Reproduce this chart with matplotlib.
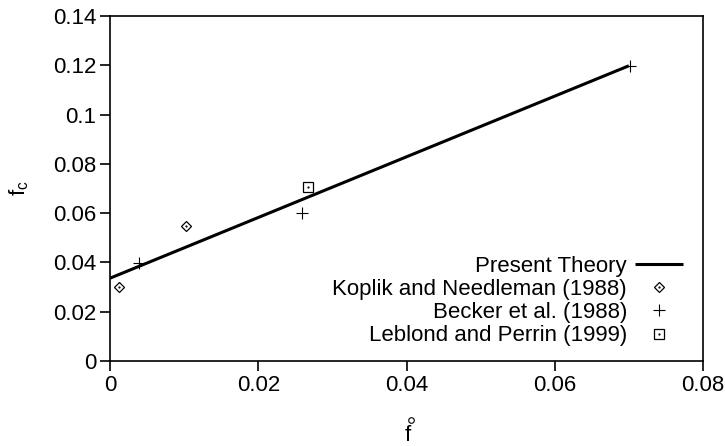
import matplotlib
matplotlib.use("Agg")
import matplotlib.pyplot as plt
from matplotlib.legend_handler import HandlerTuple
from matplotlib.lines import Line2D

plt.rcParams['font.family'] = ['Liberation Sans', 'DejaVu Sans']
plt.rcParams['mathtext.fontset'] = 'custom'
plt.rcParams['mathtext.rm'] = 'Liberation Sans'
plt.rcParams['mathtext.it'] = 'Liberation Sans'

# Data
theory_x = [0.0, 0.07]
theory_y = [0.0336, 0.1198]
koplik_x = [0.0012, 0.0103]
koplik_y = [0.0299, 0.0548]
becker_x = [0.0039, 0.0259, 0.0701]
becker_y = [0.0399, 0.0599, 0.1198]
leblond_x = [0.0267]
leblond_y = [0.0707]

xticks = [0, 0.02, 0.04, 0.06, 0.08]
xticklabels = ['0', '0.02', '0.04', '0.06', '0.08']
yticks = [0, 0.02, 0.04, 0.06, 0.08, 0.1, 0.12, 0.14]
yticklabels = ['0', '0.02', '0.04', '0.06', '0.08', '0.1', '0.12', '0.14']

fig = plt.figure(figsize=(7.25, 4.46), dpi=100)
ax = fig.add_axes([110/725, 85/446, (703-110)/725, (361-16)/446])

fs = 16
line, = ax.plot(theory_x, theory_y, color='black', lw=2.2, solid_capstyle='butt')
d, = ax.plot(koplik_x, koplik_y, ls='none', marker='D', ms=5.5, mfc='none', mec='black', mew=0.9)
ddot, = ax.plot(koplik_x, koplik_y, ls='none', marker='.', ms=1.2, color='black')
p, = ax.plot(becker_x, becker_y, ls='none', marker='+', ms=8, mec='black', mew=0.8)
s, = ax.plot(leblond_x, leblond_y, ls='none', marker='s', ms=7.5, mfc='none', mec='black', mew=0.9)
sdot, = ax.plot(leblond_x, leblond_y, ls='none', marker='.', ms=1.2, color='black')

ax.set_xlim(0, 0.08)
ax.set_ylim(0, 0.14)
ax.set_xticks(xticks)
ax.set_xticklabels(xticklabels, fontsize=fs)
ax.set_yticks(yticks)
ax.set_yticklabels(yticklabels, fontsize=fs)
ax.tick_params(direction='out', length=7, width=1.2, colors='black', pad=3)
for sp in ax.spines.values():
    sp.set_linewidth(1.2)

ax.set_ylabel(r'$\mathrm{f_c}$', fontsize=fs, labelpad=16)

# x label: f with ring above
fig.text(408/725, 1 - 441/446, 'f', fontsize=fs, ha='center', va='baseline')
fig.add_artist(Line2D([411/725], [1 - 420/446], transform=fig.transFigure,
                      ls='none', marker='o', ms=4, mfc='none', mec='black', mew=0.8))

leg = ax.legend([line, (d, ddot), p, (s, sdot)],
                ['Present Theory', 'Koplik and Needleman (1988)',
                 'Becker et al. (1988)', 'Leblond and Perrin (1999)'],
                handler_map={tuple: HandlerTuple(ndivide=1, pad=0)},
                loc='center right', bbox_to_anchor=((683-110)/593, (361-301)/345),
                frameon=False, markerfirst=False, fontsize=fs,
                handlelength=2.16, handletextpad=0.36, labelspacing=0.1,
                borderaxespad=0, borderpad=0)
for t in leg.get_texts():
    t.set_ha('right')

fig.savefig('out.png', dpi=100)
